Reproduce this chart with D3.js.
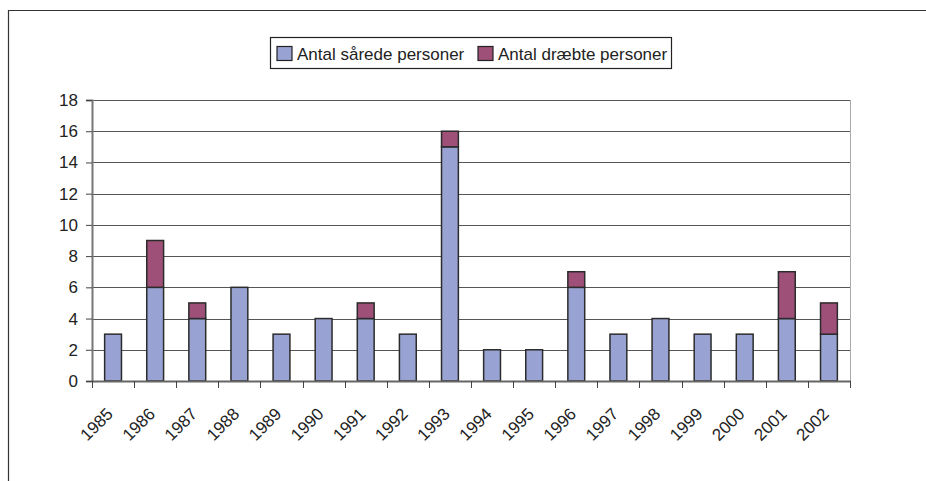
<!DOCTYPE html>
<html>
<head>
<meta charset="utf-8">
<script src="https://cdn.jsdelivr.net/npm/d3@7"></script>
<style>
  body { margin: 0; background: #fff; }
  text { font-family: "Liberation Sans", Arial, sans-serif; fill: #222; }
</style>
</head>
<body>
<svg id="chart" width="926" height="481"></svg>
<script>
const years = ["1985", "1986", "1987", "1988", "1989", "1990", "1991", "1992", "1993",
  "1994", "1995", "1996", "1997", "1998", "1999", "2000", "2001", "2002"];
const injured = [3, 6, 4, 6, 3, 4, 4, 3, 15, 2, 2, 6, 3, 4, 3, 3, 4, 3];
const killed = [0, 3, 1, 0, 0, 0, 1, 0, 1, 0, 0, 1, 0, 0, 0, 0, 3, 2];
const seriesNames = ["Antal sårede personer", "Antal dræbte personer"];
const seriesColors = ["#99a3d3", "#9e5078"];
const yTicks = [0, 2, 4, 6, 8, 10, 12, 14, 16, 18];

const svg = d3.select("#chart");
const plot = { left: 92, right: 850, top: 100, bottom: 381 };

// outer frame (top + left only visible)
svg.append("path")
  .attr("d", "M8.5,481 V10.5 H926")
  .attr("fill", "none")
  .attr("stroke", "#333")
  .attr("stroke-width", 1.2);

const x = d3.scaleBand()
  .domain(years)
  .range([plot.left, plot.right])
  .paddingInner(0.6)
  .paddingOuter(0.3);

const xTickScale = d3.scaleLinear()
  .domain([0, years.length])
  .range([plot.left, plot.right]);

const y = d3.scaleLinear()
  .domain([0, 18])
  .range([plot.bottom, plot.top]);

// gridlines
svg.append("g")
  .selectAll("line")
  .data(yTicks.filter(d => d > 0))
  .join("line")
  .attr("x1", plot.left)
  .attr("x2", plot.right)
  .attr("y1", d => Math.round(y(d)) + 0.5)
  .attr("y2", d => Math.round(y(d)) + 0.5)
  .attr("stroke", "#555")
  .attr("stroke-width", 1);

// plot right border
svg.append("line")
  .attr("x1", plot.right + 0.5).attr("x2", plot.right + 0.5)
  .attr("y1", plot.top).attr("y2", plot.bottom)
  .attr("stroke", "#aaa");

// stacked bars
const rows = years.map((yr, i) => ({ year: yr, a: injured[i], b: killed[i] }));
const stack = d3.stack().keys(["a", "b"])(rows);

svg.append("g")
  .selectAll("g")
  .data(stack)
  .join("g")
  .attr("fill", (d, i) => seriesColors[i])
  .selectAll("rect")
  .data(d => d.filter(s => s[1] > s[0]))
  .join("rect")
  .attr("x", d => x(d.data.year))
  .attr("width", x.bandwidth())
  .attr("y", d => y(d[1]))
  .attr("height", d => y(d[0]) - y(d[1]))
  .attr("stroke", "#2b2b2b")
  .attr("stroke-width", 1.5);

// y axis
const yAxis = svg.append("g")
  .attr("transform", `translate(${plot.left},0)`)
  .call(d3.axisLeft(y).tickValues(yTicks).tickSize(6).tickPadding(8));
yAxis.select(".domain").attr("stroke", "#777").attr("stroke-width", 2);
yAxis.selectAll(".tick line").attr("stroke", "#444");
yAxis.selectAll("text")
  .attr("font-size", 17)
  .attr("fill", "#222")
  .attr("font-family", "Liberation Sans, Arial, sans-serif");

// x axis line and ticks
svg.append("line")
  .attr("x1", plot.left).attr("x2", plot.right + 1)
  .attr("y1", plot.bottom + 0.5).attr("y2", plot.bottom + 0.5)
  .attr("stroke", "#666").attr("stroke-width", 2);

svg.append("g")
  .selectAll("line")
  .data(d3.range(years.length + 1))
  .join("line")
  .attr("x1", d => Math.round(xTickScale(d)) + 0.5)
  .attr("x2", d => Math.round(xTickScale(d)) + 0.5)
  .attr("y1", plot.bottom)
  .attr("y2", plot.bottom + 7)
  .attr("stroke", "#444");

// rotated category labels
svg.append("g")
  .selectAll("text")
  .data(years)
  .join("text")
  .attr("transform", d => `translate(${x(d) + x.bandwidth() / 2 + 1},${plot.bottom + 34}) rotate(-45)`)
  .attr("text-anchor", "end")
  .attr("font-size", 17)
  .text(d => d);

// legend
const legend = svg.append("g");
legend.append("rect")
  .attr("x", 270.5).attr("y", 37.5)
  .attr("width", 401).attr("height", 31)
  .attr("fill", "#fff")
  .attr("stroke", "#222")
  .attr("stroke-width", 1.2);

const legendX = [277, 478];
seriesNames.forEach((name, i) => {
  legend.append("rect")
    .attr("x", legendX[i]).attr("y", 46.5)
    .attr("width", 15).attr("height", 14)
    .attr("fill", seriesColors[i])
    .attr("stroke", "#222")
    .attr("stroke-width", 1.2);
  legend.append("text")
    .attr("x", legendX[i] + 20)
    .attr("y", 59.5)
    .attr("font-size", 17)
    .text(name);
});
</script>
</body>
</html>
